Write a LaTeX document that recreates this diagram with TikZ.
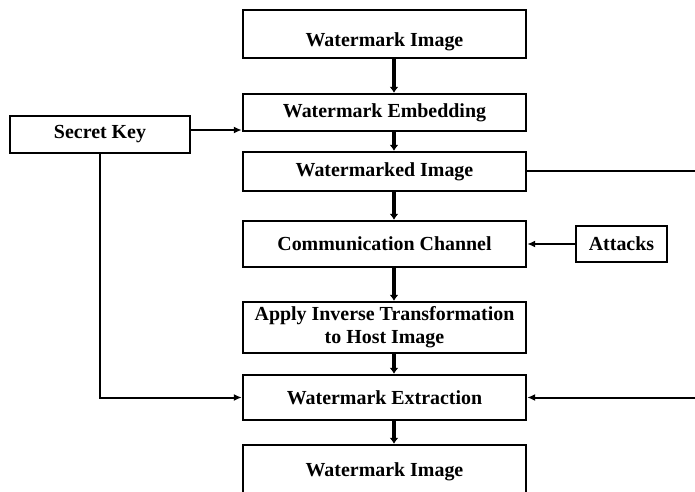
\documentclass[tikz,border=0pt]{standalone}
\usepackage{fontspec}
\setmainfont{Liberation Serif}
\usetikzlibrary{arrows.meta}
\begin{document}
\begin{tikzpicture}[x=1bp,y=-1bp,
  box/.style={draw,line width=2.4bp,fill=white,inner sep=0pt,align=center,
    font=\bfseries\fontsize{20}{23}\selectfont},
  thin/.style={line width=2bp,-{Latex[length=8bp,width=7bp]}},
  plain/.style={line width=2bp},
  varrow/.style={line width=4bp,-{Latex[length=6bp,width=9bp]}}]
\useasboundingbox (0,0) rectangle (695,492);
\clip (0,0) rectangle (695,492);
\node[box,minimum width=283bp,minimum height=48bp,text height=29bp] (wi1) at (384.5,34) {Watermark Image};
\node[box,minimum width=283bp,minimum height=37bp] (we) at (384.5,112.5) {Watermark Embedding};
\node[box,minimum width=283bp,minimum height=39bp] (wmd) at (384.5,171.5) {Watermarked Image};
\node[box,minimum width=283bp,minimum height=46bp] (cc) at (384.5,244) {Communication Channel};
\node[box,minimum width=283bp,minimum height=51bp] (inv) at (384.5,327.5) {Apply Inverse Transformation\\to Host Image};
\node[box,minimum width=283bp,minimum height=45bp] (ext) at (384.5,397.5) {Watermark Extraction};
\node[box,minimum width=283bp,minimum height=54bp] (wi2) at (384.5,472) {Watermark Image};
\node[box,minimum width=180bp,minimum height=37bp] (sk) at (100,134.5) {Secret Key};
\node[box,minimum width=91bp,minimum height=36bp] (att) at (621.5,244) {Attacks};
\coordinate (r1) at (700,171.5);
\coordinate (r2) at (700,397.5);
\draw[varrow] ([xshift=9.5bp]wi1.south) -- ([xshift=9.5bp]we.north);
\draw[varrow] ([xshift=9.5bp]we.south) -- ([xshift=9.5bp]wmd.north);
\draw[varrow] ([xshift=9.5bp]wmd.south) -- ([xshift=9.5bp]cc.north);
\draw[varrow] ([xshift=9.5bp]cc.south) -- ([xshift=9.5bp]inv.north);
\draw[varrow] ([xshift=9.5bp]inv.south) -- ([xshift=9.5bp]ext.north);
\draw[varrow] ([xshift=9.5bp]ext.south) -- ([xshift=9.5bp]wi2.north);
\draw[thin] ([yshift=4.5bp]sk.east) -- ([yshift=4.5bp]sk.east -| we.west);
\draw[thin] (sk.south) |- (ext.west);
\draw[thin] (att.west) -- (cc.east);
\draw[plain] (wmd.east) -- (r1);
\draw[thin] (r2) -- (ext.east);
\end{tikzpicture}
\end{document}
